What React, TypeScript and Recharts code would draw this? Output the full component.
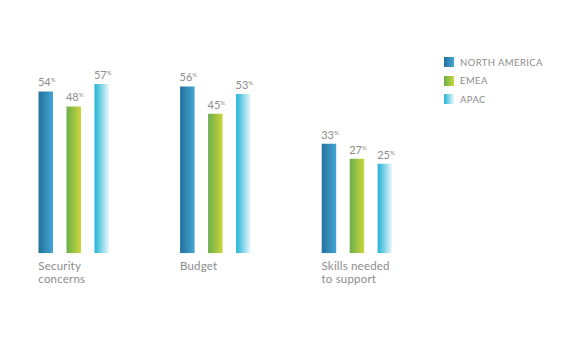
import { Bar, BarChart, LabelList, XAxis, YAxis } from "recharts";

/* Regional concerns survey: three regions x three concerns, gradient bars,
   small superscript % on the value labels, legend at the top right. */

const CATEGORIES = ["Security concerns", "Budget", "Skills needed to support"];
const CATEGORY_LINES = [["Security", "concerns"], ["Budget"], ["Skills needed", "to support"]];
const NORTH_AMERICA = [54, 56, 33];
const EMEA = [48, 45, 27];
const APAC = [57, 53, 25];
// the value axis of the original does not start at zero
const AXIS_FLOOR = -11;
const AXIS_TOP = 60;

const SERIES = [
  { key: "na", label: "NORTH AMERICA", from: "#23719d", to: "#45a5d3" },
  { key: "emea", label: "EMEA", from: "#6aaf4c", to: "#cbd63a" },
  { key: "apac", label: "APAC", from: "#22b3d5", to: "#eaf8fc" },
];

const data = CATEGORIES.map((name, i) => ({
  name,
  na: [AXIS_FLOOR, NORTH_AMERICA[i]],
  emea: [AXIS_FLOOR, EMEA[i]],
  apac: [AXIS_FLOOR, APAC[i]],
  naValue: NORTH_AMERICA[i],
  emeaValue: EMEA[i],
  apacValue: APAC[i],
}));

const FONT = "Lato, 'Open Sans', sans-serif";
const INK = "#8c8c8c";

function ValueLabel(props: any) {
  const { x, y, width, value } = props;
  return (
    <text x={Number(x) + Number(width) / 2 + 1} y={Number(y) - 5} textAnchor="middle"
      fontFamily={FONT} fontSize={11} fill={INK}>
      {value}
      <tspan fontSize={6} dy={-4}>%</tspan>
    </text>
  );
}

function CategoryTick(props: any) {
  const { x, y, index } = props;
  const lines = CATEGORY_LINES[index] ?? [];
  return (
    <text x={Number(x) - 35} y={Number(y)} fontFamily={FONT} fontSize={11.5} fill={INK}
      letterSpacing={0.2}>
      {lines.map((l, i) => (
        <tspan key={l} x={Number(x) - 35} dy={i === 0 ? 9 : 13}>{l}</tspan>
      ))}
    </text>
  );
}

export default function App() {
  return (
    <div style={{ position: "fixed", left: 0, top: 0, width: 571, height: 359, background: "#fff" }}>
      <BarChart width={571} height={359} data={data}
        barSize={14.5} barGap={13.5}
        margin={{ top: 76.5, right: 143.7, bottom: 65.7, left: 2.5 }}>
        <defs>
          {SERIES.map((s) => (
            <linearGradient key={s.key} id={`g-${s.key}`} x1="0" y1="0" x2="1" y2="0">
              <stop offset="0%" stopColor={s.from} />
              <stop offset="100%" stopColor={s.to} />
            </linearGradient>
          ))}
        </defs>
        <XAxis dataKey="name" axisLine={false} tickLine={false} height={40}
          interval={0} tick={<CategoryTick />} />
        <YAxis hide domain={[AXIS_FLOOR, AXIS_TOP]} allowDataOverflow />
        {SERIES.map((s) => (
          <Bar key={s.key} dataKey={s.key} name={s.label} fill={`url(#g-${s.key})`}
            isAnimationActive={false}>
            <LabelList dataKey={`${s.key}Value`} content={<ValueLabel />} />
          </Bar>
        ))}
      </BarChart>
      <div style={{ position: "absolute", left: 444, top: 53, fontFamily: FONT }}>
        {SERIES.map((s) => (
          <div key={s.key} style={{ display: "flex", alignItems: "center", height: 18.5 }}>
            <span style={{ width: 10, height: 10, marginRight: 6,
              background: `linear-gradient(to right, ${s.from}, ${s.to})` }} />
            <span style={{ fontSize: 9.5, color: INK, letterSpacing: 0.4 }}>{s.label}</span>
          </div>
        ))}
      </div>
    </div>
  );
}
